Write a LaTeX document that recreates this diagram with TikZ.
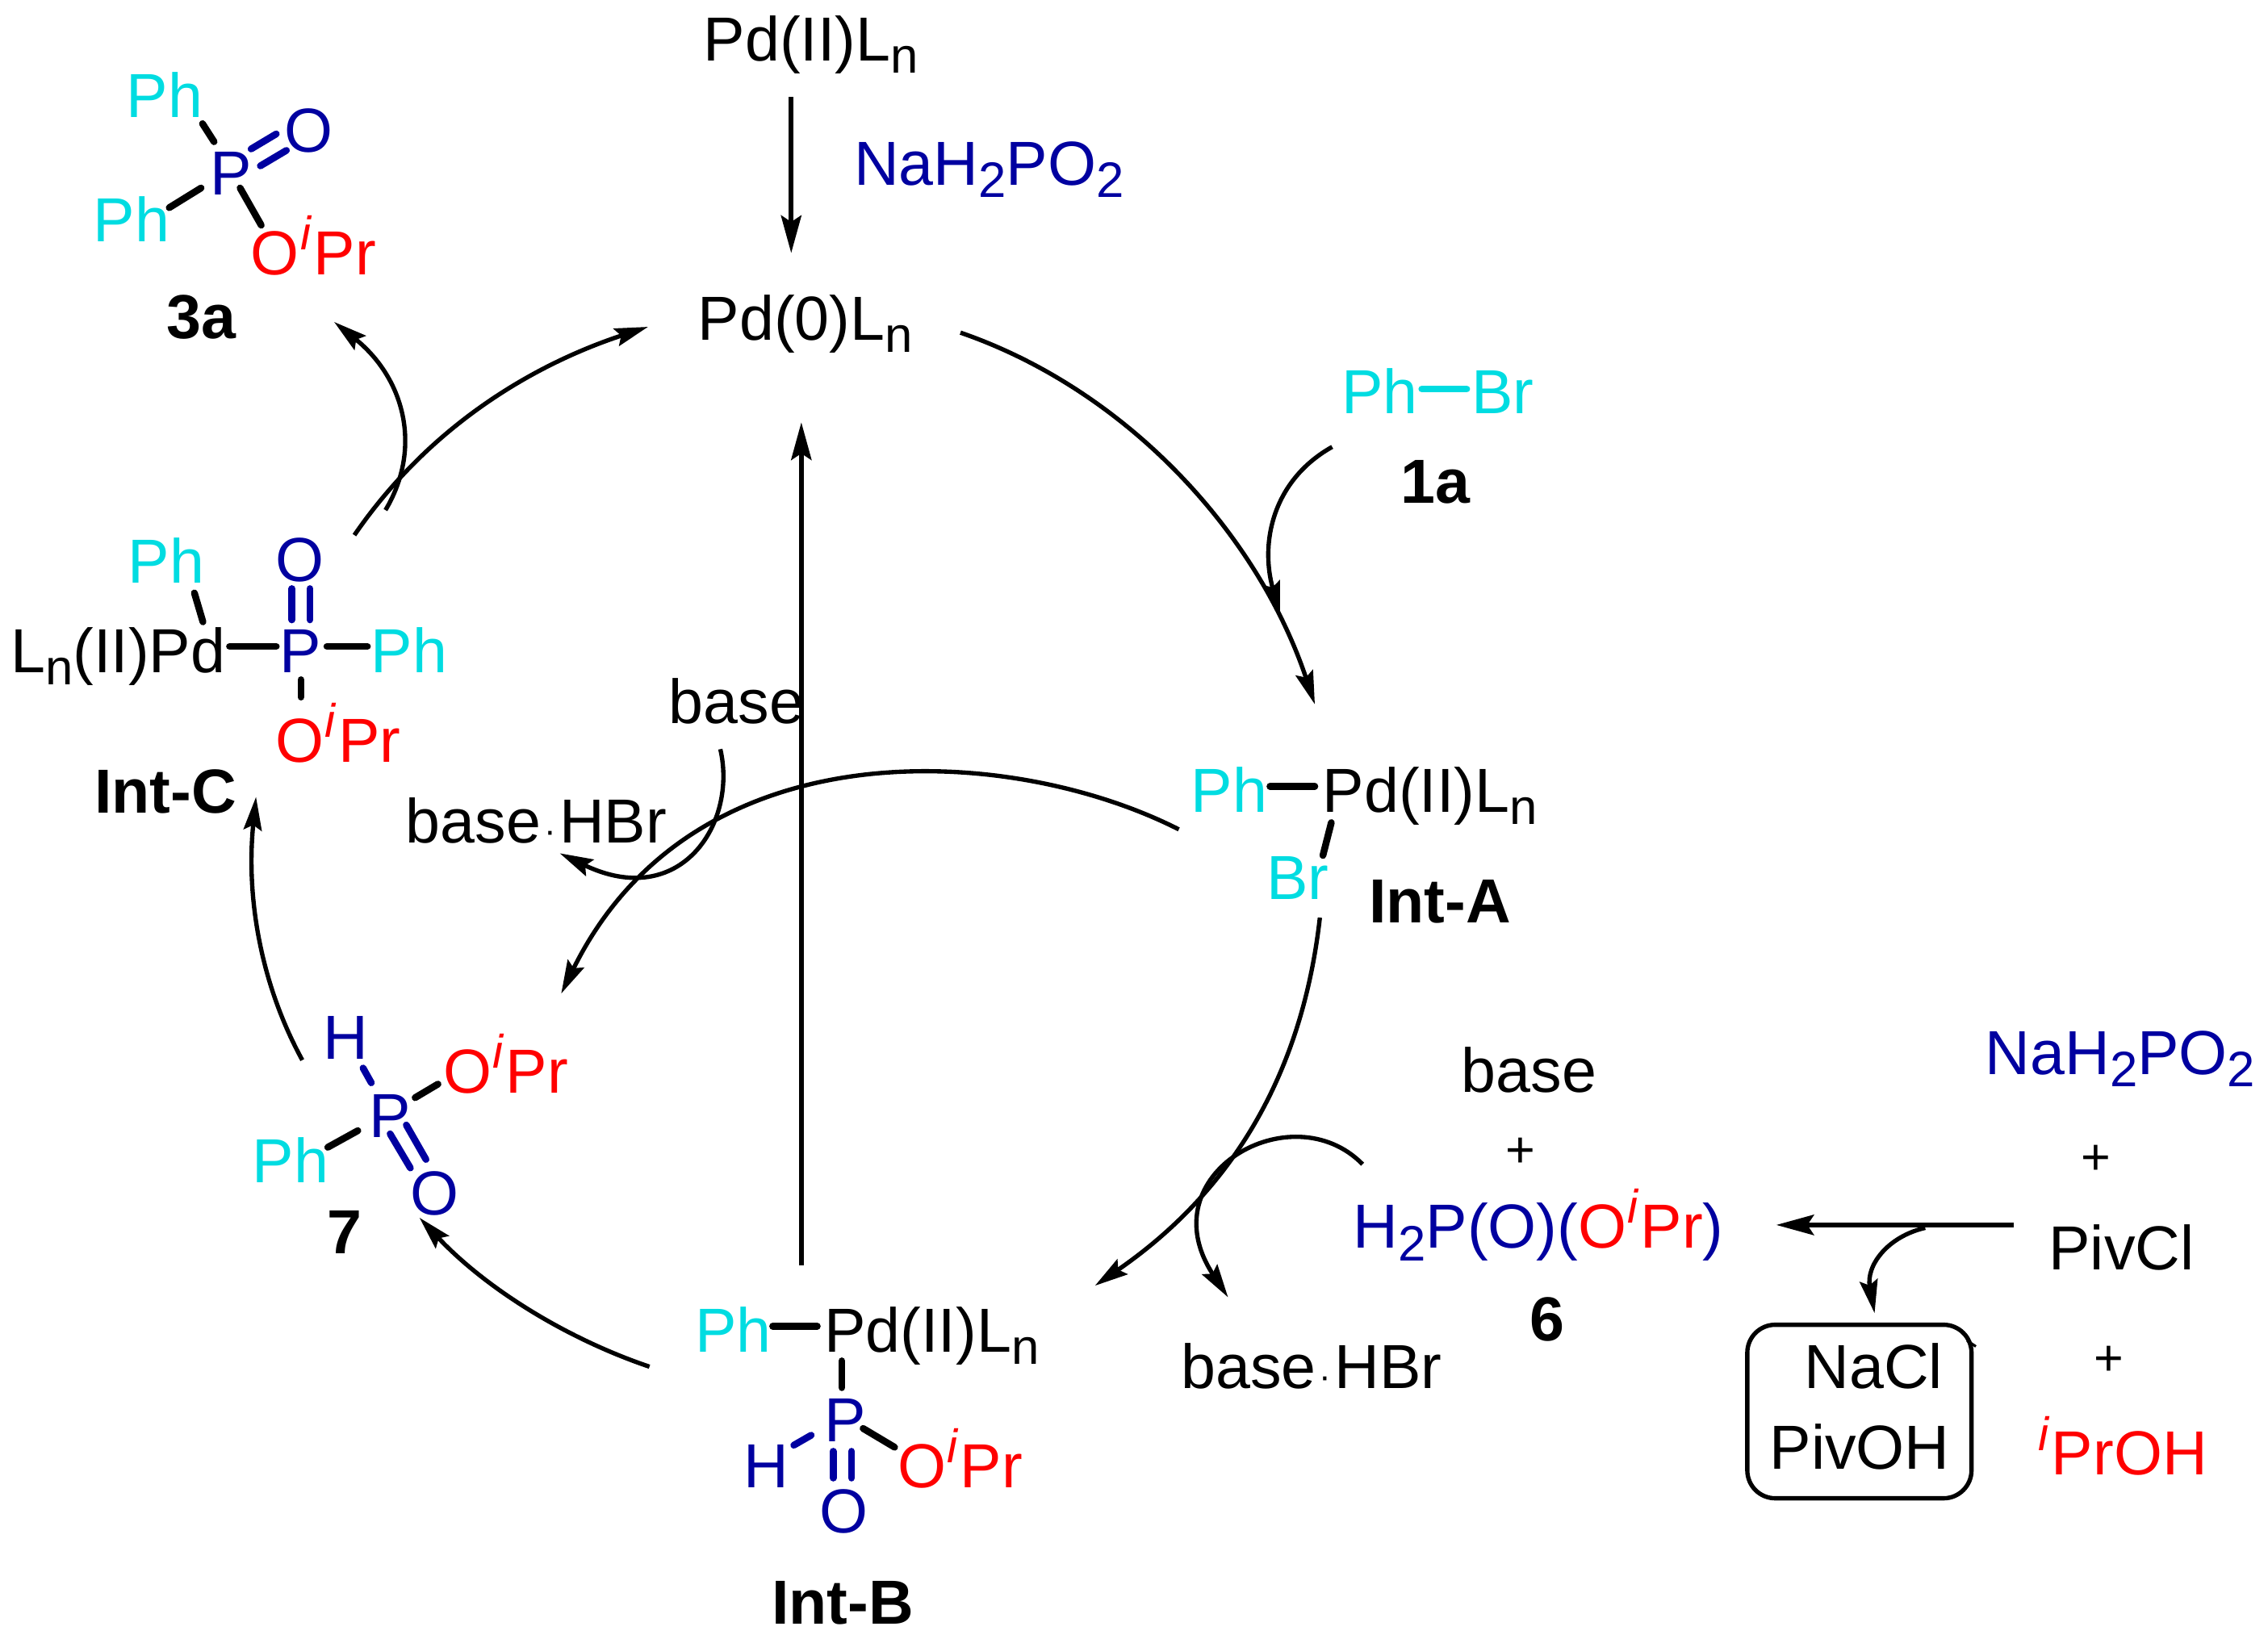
\documentclass[tikz,border=0pt]{standalone}
\usepackage{fontspec}
\setmainfont{Liberation Sans}
\usetikzlibrary{arrows.meta}
\definecolor{phc}{RGB}{0,220,225}
\definecolor{pbl}{RGB}{0,0,160}
\definecolor{ored}{RGB}{255,0,0}
\newcommand{\sbs}[1]{\raisebox{-0.2em}{\fontsize{19.6}{20}\selectfont #1}}
\newcommand{\sps}[1]{\kern0.5pt\raisebox{0.4em}{\fontsize{18.5}{20}\selectfont\itshape #1}\kern1pt}
\newcommand{\cdotm}{\makebox[0.3em]{\fontsize{14}{14}\selectfont ·}}
\newcommand{\oipr}{O\sps{i}Pr}
% a bond or arrow between two named end coordinates
\newcommand{\bnd}[4][bond]{\coordinate (#2a) at (#3);\coordinate (#2b) at (#4);\draw[#1] (#2a) -- (#2b);}
\newcommand{\crv}[5]{\coordinate (#1a) at (#2);\coordinate (#1b) at (#5);\draw[arr] (#1a) .. controls (#3) and (#4) .. (#1b);}
\tikzset{
  x=0.02cm,y=-0.02cm,
  lab/.style={anchor=base west,inner sep=0pt,outer sep=0pt,xshift=-0.03cm,font=\fontsize{24.5}{29}\selectfont},
  blab/.style={lab,font=\fontsize{24.5}{29}\selectfont\bfseries},
  ph/.style={lab,text=phc},
  bl/.style={lab,text=pbl},
  rd/.style={lab,text=ored},
  bond/.style={line width=2.7pt,line cap=round,black},
  bbond/.style={line width=2.7pt,line cap=round,pbl},
  arr/.style={line width=1.7pt,-{Stealth[length=4.6mm,width=2.5mm,inset=0.7mm]}},
  sarr/.style={line width=1.9pt,-{Stealth[length=5.2mm,width=2.8mm,inset=0.9mm]}},
  plus/.style={anchor=center,inner sep=0pt,font=\fontsize{20}{24}\selectfont},
}
\begin{document}
\begin{tikzpicture}
\useasboundingbox (0,0) rectangle (1568,1133);
% top
\node[lab] (pd2top) at (488,42) {Pd(II)L\sbs{n}};
\node[bl] (naTop) at (592,128) {NaH\sbs{2}PO\sbs{2}};
\node[lab] (pd0) at (484,235) {Pd(0)L\sbs{n}};
\bnd[sarr]{atop}{547,67}{547,175}
% 3a
\node[ph] (ph3a1) at (89,81) {Ph};
\node[bl] (o3a) at (198,105) {O};
\node[bl] (p3a) at (147,135) {P};
\node[ph] (ph3a2) at (66,167) {Ph};
\node[rd] (or3a) at (175,190) {\oipr};
\node[blab] (l3a) at (117,234) {3a};
\bnd{b3a}{140,85.5}{148,98}
\bnd[bbond]{c3a}{173.6,103}{191,92.6}
\bnd[bbond]{d3a}{180,114.7}{198,104}
\bnd{e3a}{139,130}{117,143.6}
\bnd{f3a}{166,130}{180.6,155.7}
% Int-C
\node[ph] (phC1) at (90,403) {Ph};
\node[bl] (oC) at (192,402) {O};
\node[lab] (pdC) at (9,465) {L\sbs{n}(II)Pd};
\node[bl] (pC) at (195,465) {P};
\node[ph] (phC2) at (258,465) {Ph};
\node[rd] (orC) at (192,527) {\oipr};
\node[blab] (lC) at (67,562) {Int-C};
\bnd{bC}{134.4,410}{140.3,430}
\bnd{cC}{158.7,447}{191,447}
\bnd[bbond]{dC}{201.8,407}{201.8,428.6}
\bnd[bbond]{eC}{214.3,407}{214.3,428.6}
\bnd{fC}{226,447}{254,447}
\bnd{gC}{208,470}{208,482}
% cycle arrows
\crv{cp}{245,370}{300,290}{375,250}{448,226}
\crv{c3}{266.5,352.7}{292,310}{280,262}{231,222.6}
\crv{pa}{664,230}{780,270}{870,370}{909,487}
\bnd[sarr]{bp}{554,875}{554,292}
% Ph-Br
\node[ph] (ph1a) at (929,286) {Ph};
\node[ph] (br1a) at (1019,286) {Br};
\node[blab] (l1a) at (970,348) {1a};
\bnd[bond,phc]{b1a}{983,269}{1014,269}
\crv{a1}{921,309}{880,332}{871,375}{885,425}
% Int-A
\node[ph] (phA) at (825,561.5) {Ph};
\node[lab] (pdA) at (916,561.5) {Pd(II)L\sbs{n}};
\node[ph] (brA) at (877,622) {Br};
\node[blab] (lA) at (948,638) {Int-A};
\bnd{bA}{878,543.7}{909,543.7}
\bnd{cA}{920.4,568.8}{914.6,591.5}
\crv{a7}{815,573.5}{700,515}{480,500}{388,687}
\crv{ab}{912.5,634.5}{900,745}{850,825}{757,889}
% base, upper
\node[lab] (baseU) at (464,500) {base};
\node[lab] (hbrU) at (282,583) {base\cdotm HBr};
\crv{bu}{498,518}{510,570}{470,630}{387,590}
% 7
\node[bl] (h7) at (225,732.5) {H};
\node[bl] (p7) at (257,786.5) {P};
\node[rd] (or7) at (308,755.6) {\oipr};
\node[ph] (ph7) at (176,818) {Ph};
\node[bl] (o7) at (285,840) {O};
\node[blab] (l7) at (228,867) {7};
\bnd[bbond]{b7}{251,738.5}{256.7,748.7}
\bnd{c7}{287,759}{302.8,749.6}
\bnd{d7}{247.4,781.8}{226.6,793.3}
\bnd[bbond]{e7}{269.7,784}{283.7,807.6}
\bnd[bbond]{f7}{280.9,777.9}{294.5,801.7}
\crv{bs}{449,945}{390,925}{335,890}{290,842}
\crv{sc}{209,733}{180,680}{170,620}{177,551}
% Int-B
\node[ph] (phB) at (482,934.7) {Ph};
\node[lab] (pdB) at (571.5,934.7) {Pd(II)L\sbs{n}};
\node[bl] (pB) at (571.5,997) {P};
\node[bl] (hB) at (515.5,1028.7) {H};
\node[rd] (orB) at (622,1028.7) {\oipr};
\node[bl] (oB) at (568,1060) {O};
\node[blab] (lB) at (535,1123) {Int-B};
\bnd{bB}{534.2,917}{565,917}
\bnd{cB}{582,941}{582,959.5}
\bnd[bbond]{dB}{548.8,999.3}{560.8,992.4}
\bnd{eB}{596.7,987.7}{618.5,1000.7}
\bnd[bbond]{fB}{576,1003.5}{576,1022}
\bnd[bbond]{gB}{588.7,1003.5}{588.7,1022}
% 6
\node[lab] (base6) at (1012,755) {base};
\node[plus] (pl6) at (1051,797) {+};
\node[lab,text=pbl] (h6) at (937,863) {H\sbs{2}P(O)(\textcolor{ored}{\oipr})};
\node[blab] (l6) at (1059,927) {6};
\node[lab] (hbrL) at (818,960) {base\cdotm HBr};
\crv{b6}{942,805}{893,755}{793,812}{849,897}
% right
\node[bl] (naR) at (1374,743) {NaH\sbs{2}PO\sbs{2}};
\node[plus] (plR1) at (1449,802) {+};
\node[lab] (piv) at (1418,878) {PivCl};
\node[plus] (plR2) at (1458,941) {+};
\node[rd] (ipr) at (1410,1020) {\sps{i}PrOH};
\bnd[sarr]{pr}{1392,847}{1228,847}
\crv{br}{1331,849}{1305,855}{1290,875}{1296,908}
\coordinate (bx1) at (1208,916);
\coordinate (bx2) at (1363,1036);
\draw[line width=1.7pt,rounded corners=11pt] (bx1) rectangle (bx2);
\coordinate (nb1) at (1360,927);
\coordinate (nb2) at (1366,931);
\draw[line width=1pt] (nb1) -- (nb2);
\node[lab] (nacl) at (1249,960) {NaCl};
\node[lab] (pivoh) at (1225,1016) {PivOH};
\end{tikzpicture}
\end{document}
